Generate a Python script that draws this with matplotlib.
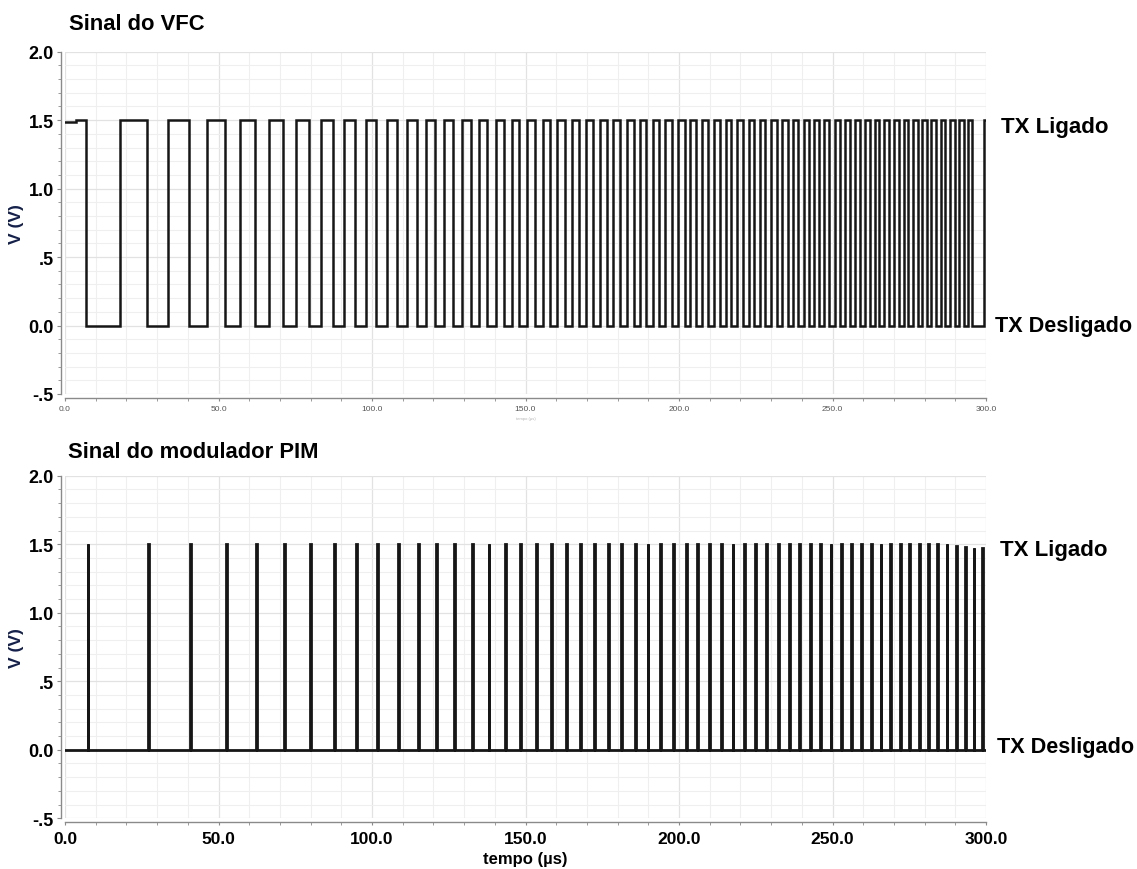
import matplotlib
matplotlib.use("Agg")
import matplotlib.pyplot as plt
from matplotlib.ticker import MultipleLocator, FixedLocator, FixedFormatter

plt.rcParams['font.family'] = ['Liberation Sans', 'DejaVu Sans']

# ---------------- data ----------------
# VFC square wave: starts high at 1.5 V, falls / rises at these instants (µs)
vfc_high = 1.5
vfc_low = 0.0
vfc_fall = [7.0, 26.6, 40.4, 52.0, 62.0, 71.0, 79.4, 87.3, 94.5, 101.4,
            108.2, 114.6, 120.6, 126.5, 132.1, 137.6, 143.0, 148.0, 153.2, 158.1,
            162.8, 167.4, 172.0, 176.4, 180.9, 185.2, 189.4, 193.5, 197.7, 201.9,
            205.6, 209.5, 213.4, 217.1, 220.9, 224.5, 228.1, 231.8, 235.4, 238.8,
            242.4, 245.7, 249.0, 252.4, 255.7, 258.9, 262.1, 265.3, 268.5, 271.7,
            274.7, 277.7, 280.7, 283.8, 286.8, 289.9, 292.8, 295.6]
vfc_rise = [17.8, 33.7, 46.1, 57.1, 66.5, 75.2, 83.5, 91.0, 98.0, 104.9,
            111.4, 117.6, 123.5, 129.3, 134.8, 140.3, 145.5, 150.6, 155.6, 160.4,
            165.1, 169.7, 174.2, 178.6, 183.0, 187.3, 191.4, 195.6, 199.8, 203.7,
            207.5, 211.4, 215.2, 219.0, 222.7, 226.3, 229.9, 233.6, 237.1, 240.6,
            244.0, 247.3, 250.7, 254.0, 257.3, 260.5, 263.7, 266.9, 270.1, 273.2,
            276.2, 279.2, 282.2, 285.3, 288.3, 291.3, 294.2, 299.3]

# PIM modulator: narrow pulses (µs) and their peak voltages
pim_pulse = [7.5, 27.1, 40.9, 52.5, 62.5, 71.5, 79.9, 87.8, 95.0, 101.9,
             108.7, 115.1, 121.1, 127.0, 132.6, 138.1, 143.5, 148.5, 153.7, 158.6,
             163.3, 167.9, 172.5, 176.9, 181.4, 185.7, 189.9, 194.0, 198.2, 202.4,
             206.1, 210.0, 213.9, 217.6, 221.4, 225.0, 228.6, 232.3, 235.9, 239.3,
             242.9, 246.2, 249.5, 252.9, 256.2, 259.4, 262.6, 265.8, 269.0, 272.2,
             275.2, 278.2, 281.2, 284.3, 287.3, 290.4, 293.3, 296.1, 299.0]
pim_peak = [1.5] * 55 + [1.49, 1.48, 1.47, 1.47]

t_end = 300.0
y_ticks = [-0.5, 0.0, 0.5, 1.0, 1.5, 2.0]
y_ticklabels = ['-.5', '0.0', '.5', '1.0', '1.5', '2.0']
x_ticks = [0, 50, 100, 150, 200, 250, 300]
x_ticklabels = ['0.0', '50.0', '100.0', '150.0', '200.0', '250.0', '300.0']

# ---------------- build traces ----------------
vt = [0.0, 3.5, 3.5]
vv = [1.49, 1.49, vfc_high]
for f, r in zip(vfc_fall, vfc_rise):
    vt += [f, f, r, r]
    vv += [vfc_high, vfc_low, vfc_low, vfc_high]
vt.append(t_end)
vv.append(vfc_high)

pw = 0.3
pt = [0.0]
pv = [0.0]
for p, h in zip(pim_pulse, pim_peak):
    pt += [p - pw / 2, p - pw / 2, p + pw / 2, p + pw / 2]
    pv += [0.0, h, h, 0.0]
pt.append(t_end)
pv.append(0.0)

# ---------------- figure ----------------
W, H = 1137, 870
fig = plt.figure(figsize=(W / 100, H / 100), dpi=100)


def fx(px):
    return px / W


def fy(py):
    return 1 - py / H


ax1 = fig.add_axes([fx(65), fy(395), fx(986) - fx(65), fy(52.7) - fy(395)])
ax2 = fig.add_axes([fx(65), fy(819.3), fx(986) - fx(65), fy(476.7) - fy(819.3)])

line_col = '#161616'
for ax in (ax1, ax2):
    ax.set_xlim(0, t_end)
    ax.set_ylim(-0.5, 2.0)
    ax.yaxis.set_major_locator(FixedLocator(y_ticks))
    ax.yaxis.set_major_formatter(FixedFormatter(y_ticklabels))
    ax.yaxis.set_minor_locator(MultipleLocator(0.1))
    ax.xaxis.set_major_locator(FixedLocator(x_ticks))
    ax.xaxis.set_major_formatter(FixedFormatter(x_ticklabels))
    ax.xaxis.set_minor_locator(MultipleLocator(10))
    ax.grid(True, which='minor', color='#efefef', lw=0.8)
    ax.grid(True, which='major', color='#e2e2e2', lw=0.9)
    ax.set_axisbelow(True)
    for s in ('top', 'right'):
        ax.spines[s].set_visible(False)
    for s in ('left', 'bottom'):
        ax.spines[s].set_position(('outward', 3))
        ax.spines[s].set_color('#8a8a8a')
        ax.spines[s].set_linewidth(1.0)
    ax.tick_params(axis='y', which='major', direction='out', length=3,
                   color='#8a8a8a', labelsize=13, pad=2)
    ax.tick_params(axis='y', which='minor', direction='out', length=2.5,
                   color='#8a8a8a')
    ax.tick_params(axis='x', which='both', direction='out', length=2,
                   color='#8a8a8a')
    for lab in ax.get_yticklabels():
        lab.set_fontweight('bold')
    ax.set_ylabel('V (V)', fontsize=12.5, fontweight='bold', color='#14204a',
                  labelpad=3)

ax1.tick_params(axis='x', which='major', labelsize=6, labelcolor='#555555', pad=3)
ax2.tick_params(axis='x', which='major', labelsize=12.5, pad=4)
for lab in ax2.get_xticklabels():
    lab.set_fontweight('bold')

ax1.plot(vt, vv, color=line_col, lw=1.8, solid_joinstyle='miter')
ax2.plot(pt, pv, color=line_col, lw=2.0, solid_joinstyle='miter')

ax2.set_xlabel('tempo (µs)', fontsize=12, fontweight='bold', labelpad=4)

# titles
fig.text(fx(69), fy(25), 'Sinal do VFC', fontsize=15.8, fontweight='bold',
         va='center', ha='left')
fig.text(fx(68), fy(453), 'Sinal do modulador PIM', fontsize=15.8,
         fontweight='bold', va='center', ha='left')

# state annotations
fig.text(fx(1001), fy(127), 'TX Ligado', fontsize=16, fontweight='bold',
         va='center', ha='left')
fig.text(fx(995), fy(327), 'TX Desligado', fontsize=15.6, fontweight='bold',
         va='center', ha='left')
fig.text(fx(1000), fy(551), 'TX Ligado', fontsize=16, fontweight='bold',
         va='center', ha='left')
fig.text(fx(997), fy(747), 'TX Desligado', fontsize=15.6, fontweight='bold',
         va='center', ha='left')

# faint tiny axis caption under top chart
fig.text(fx(526), fy(419), 'tempo (µs)', fontsize=3, color='#b5b5b5',
         va='center', ha='center')

fig.savefig('out.png', dpi=100)
